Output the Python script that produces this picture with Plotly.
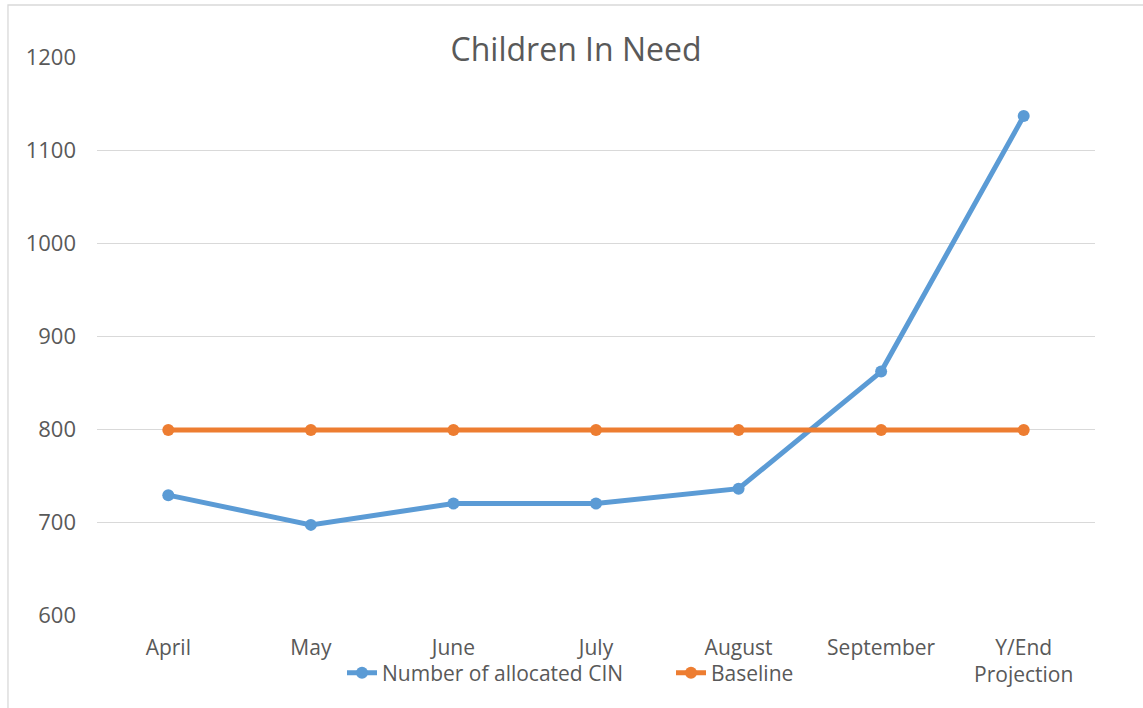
import plotly.graph_objects as go

categories = ["April", "May", "June", "July", "August", "September", "Y/End<br>Projection"]
allocated_cin = [729, 697, 720, 720, 736, 862, 1137]
baseline = [799, 799, 799, 799, 799, 799, 799]
y_ticks = [600, 700, 800, 900, 1000, 1100, 1200]

FONT = "Open Sans, Liberation Sans, sans-serif"
TXT = "#595959"

fig = go.Figure()
fig.add_trace(go.Scatter(
    x=categories, y=allocated_cin, name="Number of allocated CIN",
    mode="lines+markers",
    line=dict(color="#5B9BD5", width=5),
    marker=dict(color="#5B9BD5", size=12),
))
fig.add_trace(go.Scatter(
    x=categories, y=baseline, name="Baseline",
    mode="lines+markers",
    line=dict(color="#ED7D31", width=5),
    marker=dict(color="#ED7D31", size=12),
))

fig.update_layout(
    width=1143, height=708,
    margin=dict(l=97, r=48, t=57, b=93, autoexpand=False),
    paper_bgcolor="white", plot_bgcolor="white",
    font=dict(family=FONT, color=TXT, size=20),
    title=dict(text="Children In Need", x=0.504, xanchor="center",
               y=1 - 50 / 708, yanchor="middle",
               font=dict(size=32, color=TXT, family=FONT)),
    showlegend=True,
    legend=dict(orientation="h", xref="container", yref="container",
                x=342 / 1143, xanchor="left", y=1 - 673 / 708, yanchor="middle",
                entrywidth=284, entrywidthmode="pixels",
                font=dict(size=21, color=TXT), tracegroupgap=0,
                bgcolor="rgba(0,0,0,0)"),
    xaxis=dict(type="category", showgrid=False, showline=False, zeroline=False,
               ticks="", ticklabelstandoff=18, tickfont=dict(size=21, color=TXT),
               range=[-0.5, 6.5]),
    yaxis=dict(range=[600, 1200.6], tickvals=y_ticks, showgrid=True,
               gridcolor="#D9D9D9", gridwidth=1.3, zeroline=False, showline=False,
               ticks="", ticklabelstandoff=20, tickfont=dict(size=22, color=TXT)),
)

fig.add_shape(type="rect", xref="paper", yref="paper",
              x0=-0.0892, x1=1.2, y0=-0.3, y1=1.0932,
              line=dict(color="#D9D9D9", width=1.3), layer="below")

fig.write_html("out.html")
